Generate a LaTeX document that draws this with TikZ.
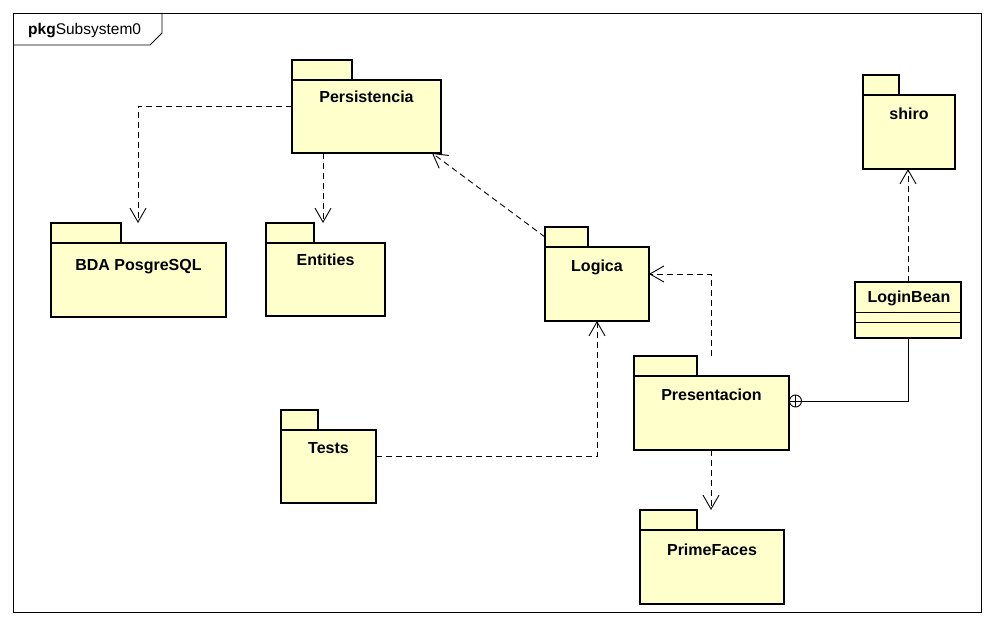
\documentclass[tikz,border=0pt]{standalone}
\usepackage{fontspec}
\setmainfont{Liberation Sans}
\usetikzlibrary{arrows.meta,calc}
\definecolor{pkgfill}{HTML}{FFFFCC}
\tikzset{
  pkgshape/.style={draw, fill=pkgfill, line width=2.6pt, outer sep=0pt, inner sep=0pt, rectangle},
  pkgtext/.style={font=\fontsize{16}{19}\selectfont\bfseries, inner sep=0pt, anchor=north},
  dep/.style={line width=0.9pt, dash pattern=on 6pt off 4pt, -{Straight Barb[length=14pt,width=16pt,line width=0.9pt]}},
  solidline/.style={line width=0.9pt},
}
% #1 name, #2 left x, #3 tab right x, #4 tab top y, #5 body top y, #6 body right x, #7 bottom y, #8 text, #9 text offset
\newcommand\umlpkg[9]{%
  \pgfmathsetmacro\tabW{#3-#2}\pgfmathsetmacro\tabH{#5-#4}%
  \pgfmathsetmacro\bodyW{#6-#2}\pgfmathsetmacro\bodyH{#7-#5}%
  \node[pkgshape, anchor=south west, minimum width=\tabW pt, minimum height=\tabH pt] (#1-tab) at (#2,#5) {};
  \node[pkgshape, anchor=north west, minimum width=\bodyW pt, minimum height=\bodyH pt] (#1) at (#2,#5) {};
  \node[pkgtext] (#1-t) at ($(#1.north)+(0,#9)$) {#8};
}
\begin{document}
\begin{tikzpicture}[x=1pt,y=-1pt]
\useasboundingbox (0,0) rectangle (994,626);
\fill[white] (0,0) rectangle (994,626);
% frame
\node[draw, line width=0.9pt, outer sep=0pt, inner sep=0pt, anchor=north west, minimum width=968pt, minimum height=599pt] (frame) at (13,13) {};
\draw[line width=0.9pt] (13,45) -- (150,45) -- (162,33) -- (162,13);
\node[anchor=west, inner sep=0pt, font=\fontsize{15.5}{18}\selectfont] (frame-t) at (28,31) {\textbf{pkg}Subsystem0};

\umlpkg{pers}{292}{352}{60}{80}{441}{153}{Persistencia}{11}
\umlpkg{bda}{51}{121}{223}{243}{226}{317}{BDA PosgreSQL}{16}
\umlpkg{ent}{266}{314}{223}{243}{385}{316}{Entities}{11}
\umlpkg{log}{545}{588}{227}{247}{649}{321}{Logica}{13}
\umlpkg{shiro}{863}{899}{75}{95}{955}{169}{shiro}{13}
\umlpkg{pres}{634}{697}{356}{376}{789}{450}{Presentacion}{13}
\umlpkg{tests}{281}{318}{410}{430}{376}{503}{Tests}{12}
\umlpkg{pf}{640}{697}{510}{530}{784}{604}{PrimeFaces}{14}

% LoginBean class
\node[draw, fill=pkgfill, line width=2.4pt, outer sep=0pt, inner sep=0pt, anchor=north west, minimum width=106pt, minimum height=56pt] (login) at (855,282) {};
\node[pkgtext, anchor=center] (login-t) at (909,298) {LoginBean};
\draw[solidline] ([yshift=-30pt]login.north west) -- ([yshift=-30pt]login.north east);
\draw[solidline] ([yshift=-40pt]login.north west) -- ([yshift=-40pt]login.north east);

% dependencies
\draw[dep] ([yshift=-26pt]pers.north west) -| ([xshift=87pt]bda.north west |- bda-tab.north);
\draw[dep] ([xshift=31pt]pers.south west) -- ([xshift=31pt]pers.south west |- ent-tab.north);
\draw[dep] (log-tab.west) -- ([xshift=-9pt]pers.south east);
\draw[dep] ([xshift=77pt]pres-tab.north west) |- ([yshift=10pt]log.east);
\draw[dep] ([yshift=10pt]tests.east) -| ([xshift=52pt]log.south west);
\draw[dep] ([xshift=77pt]pres.south west) -- ([xshift=77pt]pres.south west |- pf-tab.north);
\draw[dep] (login.north) -- (login.north |- shiro.south);

% containment (nesting) connector
\node[draw, circle, solidline, fill=white, minimum size=12pt, inner sep=0pt, outer sep=0pt] (own) at ([xshift=6.5pt,yshift=12pt]pres.east) {};
\draw[solidline] (own.north) -- (own.south) (own.west) -- (own.east);
\draw[solidline] (login.south) |- (own.east);
\end{tikzpicture}
\end{document}
